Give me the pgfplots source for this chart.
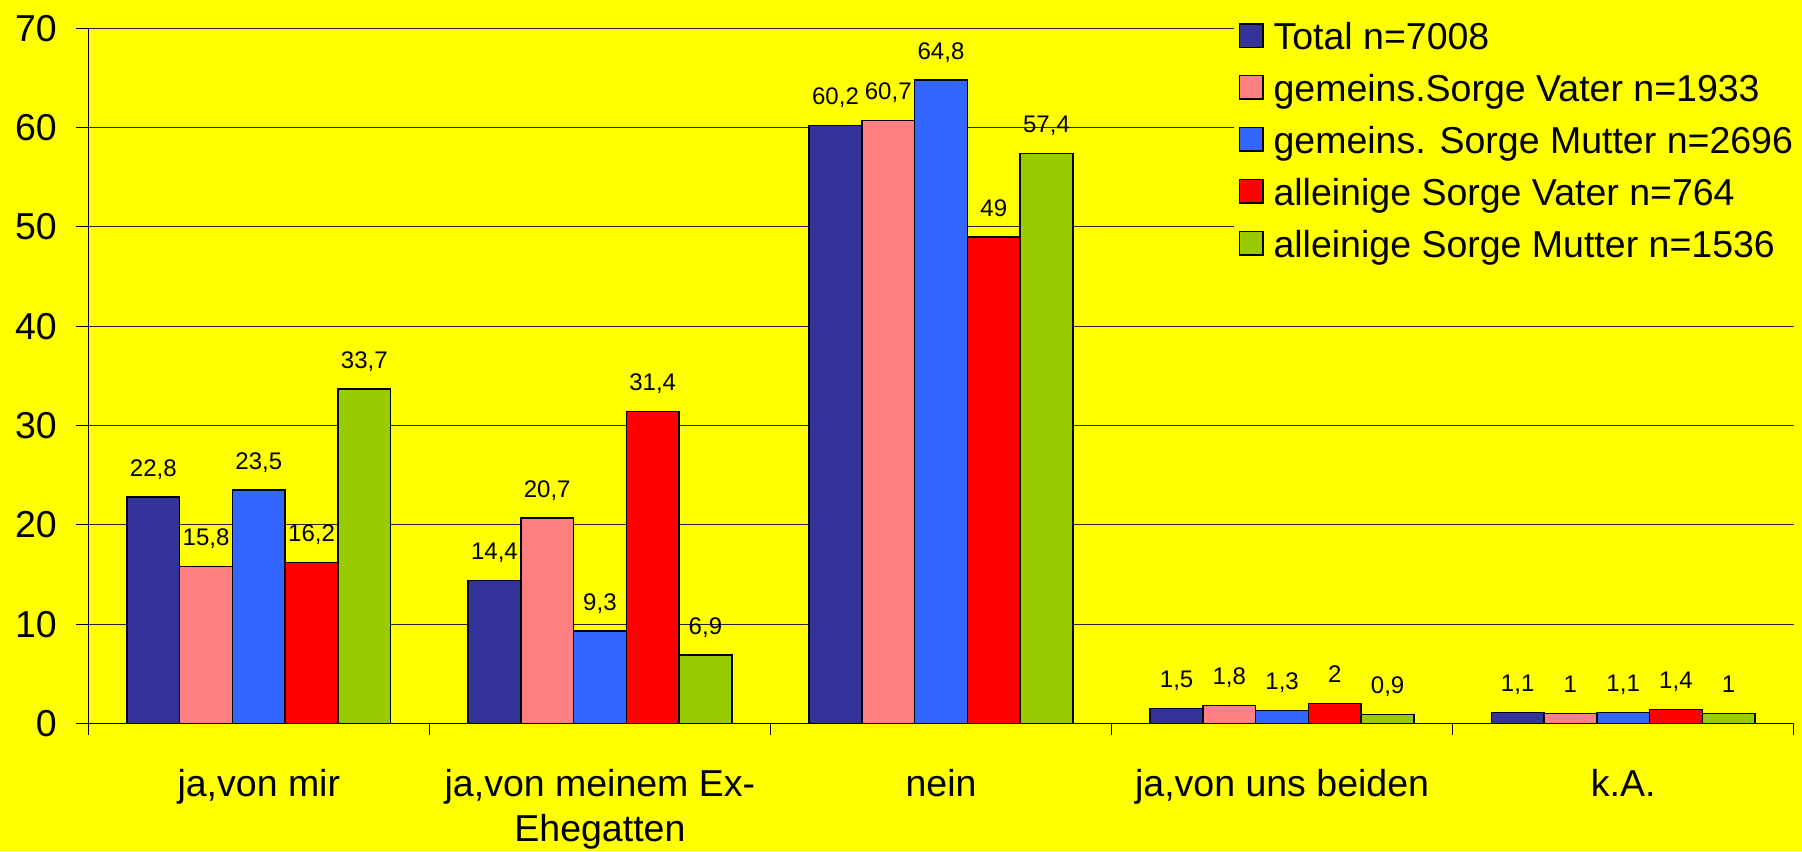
\documentclass[border=0pt]{standalone}
\usepackage{pgfplots}
\pgfplotsset{compat=1.18}
\usepackage{fontspec}
\setmainfont{Liberation Sans}
\definecolor{cTotal}{HTML}{333399}
\definecolor{cGV}{HTML}{FF8080}
\definecolor{cGM}{HTML}{3366FF}
\definecolor{cAV}{HTML}{FF0000}
\definecolor{cAM}{HTML}{99CC00}
\definecolor{bg}{HTML}{FFFF00}
\newcommand{\fs}{\fontsize{15}{18}\selectfont}
\begin{document}
\begin{tikzpicture}
\path[use as bounding box, fill=bg] (0,0) rectangle (720.8pt,340.4pt);
\begin{axis}[
  at={(35.32pt,51.04pt)}, anchor=south west,
  scale only axis, width=682.16pt, height=278.04pt,
  xmin=0, xmax=5, ymin=0, ymax=70,
  axis x line*=bottom, axis y line*=left,
  axis line style={black, line width=0.45pt, -},
  ybar=0pt, bar width=21.1pt,
  xtick={0,...,5}, x tick label as interval,
  xticklabels={{ja,von mir},{ja,von meinem Ex-\\Ehegatten},nein,{ja,von uns beiden},k.A.},
  ytick={0,10,...,70},
  tick align=outside, major tick length=4.8pt,
  tick style={black, line width=0.45pt},
  ymajorgrids, grid style={black!85, line width=0.4pt},
  /pgf/number format/assume math mode=true,
  /pgf/number format/use comma,
  /pgf/number format/1000 sep={},
  xticklabel style={font=\fs, align=center, inner sep=0pt, anchor=north, yshift=-13.3pt},
  yticklabel style={font=\fs, inner sep=0pt, anchor=east, xshift=-7.6pt},
  nodes near coords,
  every node near coord/.append style={font=\fontsize{9.6}{11}\selectfont, anchor=base, inner sep=0pt, yshift=8.3pt, black},
  legend style={at={(0.6714,1.017)}, anchor=north west, fill=bg, draw=none, inner sep=2pt,
    font=\fs, row sep=6.55pt, column sep=0pt,
    nodes={inner sep=0pt, text height=11pt, text depth=3.2pt}},
  legend cell align=left,
  mybar/.style={fill=#1, draw=black, line width=0.6pt,
    legend image code/.code={\draw[fill=#1, draw=black, line width=0.6pt] (0pt,-3pt) rectangle (9.36pt,6.36pt); \path (13.3pt,0pt);}},
]
\addplot[mybar=cTotal] coordinates {(0.5,22.8) (1.5,14.4) (2.5,60.2) (3.5,1.5) (4.5,1.1)};
\addplot[mybar=cGV] coordinates {(0.5,15.8) (1.5,20.7) (2.5,60.7) (3.5,1.8) (4.5,1.0)};
\addplot[mybar=cGM] coordinates {(0.5,23.5) (1.5,9.3) (2.5,64.8) (3.5,1.3) (4.5,1.1)};
\addplot[mybar=cAV] coordinates {(0.5,16.2) (1.5,31.4) (2.5,49) (3.5,2) (4.5,1.4)};
\addplot[mybar=cAM] coordinates {(0.5,33.7) (1.5,6.9) (2.5,57.4) (3.5,0.9) (4.5,1)};
\legend{Total n=7008, gemeins.Sorge Vater n=1933, gemeins. Sorge Mutter n=2696, alleinige Sorge Vater n=764, alleinige Sorge Mutter n=1536}
\end{axis}
\end{tikzpicture}
\end{document}
